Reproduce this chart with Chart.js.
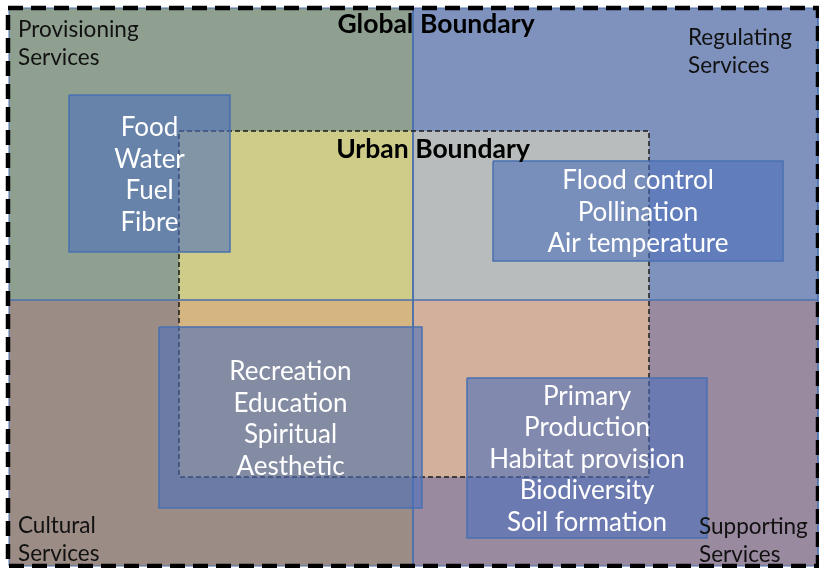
<!DOCTYPE html>
<html>
<head>
<meta charset="utf-8">
<script src="https://cdn.jsdelivr.net/npm/chart.js@4.4.1/dist/chart.umd.min.js"></script>
<style>
  html, body { margin: 0; padding: 0; background: #ffffff; }
  #wrap { width: 819px; height: 568px; position: relative; }
</style>
</head>
<body>
<div id="wrap"><canvas id="diagrama"></canvas></div>
<script>
// diagram extents in the chart's own units (x: 0-819, y: 0-568 from the top)
const quadrantNames = [['Provisioning', 'Services'], ['Regulating', 'Services'], ['Cultural', 'Services'], ['Supporting', 'Services']];
const quadrantX = [[9, 413], [413, 818], [9, 413], [413, 818]];
const quadrantY = [[8, 300], [8, 300], [300, 566], [300, 566]];

const globalX = [8, 818];
const globalY = [8, 566];
const urbanX = [179, 649];
const urbanY = [131, 477];

const serviceLines = [
  ['Food', 'Water', 'Fuel', 'Fibre'],
  ['Flood control', 'Pollination', 'Air temperature'],
  ['Recreation', 'Education', 'Spiritual', 'Aesthetic'],
  ['Primary', 'Production', 'Habitat provision', 'Biodiversity', 'Soil formation'],
];
const serviceX = [[69, 230], [493, 783], [159, 422], [467, 707]];
const serviceY = [[95, 252], [161, 261], [327, 508], [378, 538]];

const quadrantColors = ['#8fa091', '#7f92be', '#9c8c86', '#9a8aa0'];
const urbanColors = ['#cfcc89', '#b9bcbc', '#d5b680', '#d3b09c'];

function rectangle(xs, ys) {
  return [
    { x: xs[0], y: ys[0] },
    { x: xs[1], y: ys[0] },
    { x: xs[1], y: ys[1] },
    { x: xs[0], y: ys[1] },
    { x: xs[0], y: ys[0] },
  ];
}

function clampRange(a, b) {
  return [Math.max(a[0], b[0]), Math.min(a[1], b[1])];
}

function layer(data, fillColor, lineColor, lineWidth, dash) {
  return {
    data,
    fill: fillColor ? 'shape' : false,
    backgroundColor: fillColor || 'transparent',
    borderColor: lineColor || 'transparent',
    borderWidth: lineWidth || 0,
    borderDash: dash || [],
    pointRadius: 0,
    tension: 0,
    clip: false,
  };
}

function buildLayers() {
  const layers = [];

  // quadrant fills
  quadrantX.forEach((xs, i) => {
    layers.push(layer(rectangle(xs, quadrantY[i]), quadrantColors[i]));
  });

  // the urban area, split by the quadrants
  quadrantX.forEach((xs, i) => {
    const part = rectangle(clampRange(xs, urbanX), clampRange(quadrantY[i], urbanY));
    layers.push(layer(part, urbanColors[i]));
  });

  // thin quadrant outlines
  quadrantX.forEach((xs, i) => {
    layers.push(layer(rectangle(xs, quadrantY[i]), null, '#4a70ae', 1));
  });

  layers.push(layer(rectangle(urbanX, urbanY), null, '#1a1a1a', 1.5, [5, 3]));

  // service boxes
  serviceX.forEach((xs, i) => {
    layers.push(layer(rectangle(xs, serviceY[i]), 'rgba(76, 111, 186, 0.6)', '#4a70b0', 1.5));
  });

  layers.push(layer(rectangle(globalX, globalY), null, '#000000', 4.5, [15, 8]));

  // first pushed = bottom, so give it the highest order
  layers.forEach((item, i) => {
    item.order = layers.length - i;
  });

  return layers;
}

const textPlugin = {
  id: 'diagramText',
  afterDatasetsDraw(chart) {
    const { ctx } = chart;
    const sx = chart.scales.x;
    const sy = chart.scales.y;

    ctx.save();
    ctx.textBaseline = 'middle';

    // quadrant names
    ctx.fillStyle = '#111111';
    ctx.font = '22.5px Lato, "Open Sans", sans-serif';
    ctx.textAlign = 'left';
    const namePos = [[18, 29.5], [688, 37.5], [18, 525.5], [699, 526.5]];
    quadrantNames.forEach((lines, i) => {
      lines.forEach((line, k) => {
        ctx.fillText(line, sx.getPixelForValue(namePos[i][0]), sy.getPixelForValue(namePos[i][1] + k * 28));
      });
    });

    // boundary titles
    ctx.font = 'bold 26.5px Lato, "Open Sans", sans-serif';
    ctx.textAlign = 'center';
    ctx.fillStyle = '#000000';
    ctx.fillText('Global Boundary', sx.getPixelForValue(436), sy.getPixelForValue(24.5));
    ctx.fillText('Urban Boundary', sx.getPixelForValue(433), sy.getPixelForValue(149.5));

    // service lists, centred in their boxes
    ctx.font = '26px Lato, "Open Sans", sans-serif';
    ctx.fillStyle = '#ffffff';
    serviceLines.forEach((lines, i) => {
      const cx = (serviceX[i][0] + serviceX[i][1]) / 2;
      const cy = (serviceY[i][0] + serviceY[i][1]) / 2 + 1.5;
      const step = 31.5;
      const top = cy - ((lines.length - 1) * step) / 2;
      lines.forEach((line, k) => {
        ctx.fillText(line, sx.getPixelForValue(cx), sy.getPixelForValue(top + k * step));
      });
    });

    ctx.restore();
  },
};

new Chart(document.querySelector('#diagrama'), {
  type: 'line',
  data: { datasets: buildLayers() },
  options: {
    responsive: true,
    maintainAspectRatio: false,
    animation: false,
    parsing: false,
    layout: { padding: 0 },
    scales: {
      x: { type: 'linear', min: 0, max: 819, display: false },
      y: { type: 'linear', min: 0, max: 568, reverse: true, display: false },
    },
    plugins: {
      legend: { display: false },
      tooltip: { enabled: false },
    },
  },
  plugins: [textPlugin],
});
</script>
</body>
</html>
